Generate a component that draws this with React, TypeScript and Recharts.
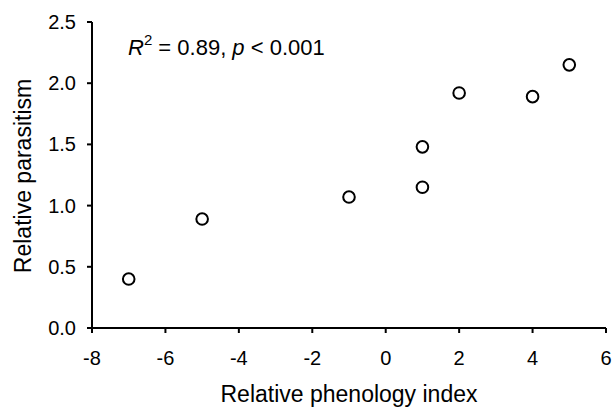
import React from "react";
import { ScatterChart, Scatter, XAxis, YAxis, Customized } from "recharts";

const phenology = [-7, -5, -1, 1, 1, 2, 4, 5];
const parasitism = [0.4, 0.89, 1.07, 1.48, 1.15, 1.92, 1.89, 2.15];
const xTicks = [-8, -6, -4, -2, 0, 2, 4, 6];
const yTicks = [0, 0.5, 1.0, 1.5, 2.0, 2.5];

const points = phenology.map((x, i) => ({ x, y: parasitism[i] }));

const font = "'Liberation Sans', Arial, Helvetica, sans-serif";

function OpenCircle(props: any) {
  const { cx, cy } = props;
  return <circle cx={cx} cy={cy} r={5.8} fill="#fff" stroke="#000" strokeWidth={2} />;
}

function XTick(props: any) {
  const { x, y, payload } = props;
  return (
    <text x={x} y={y} dy={14} textAnchor="middle" fontFamily={font} fontSize={20} fill="#000">
      {payload.value}
    </text>
  );
}

function YTick(props: any) {
  const { x, y, payload } = props;
  return (
    <text x={x} y={y} dy={7} textAnchor="end" fontFamily={font} fontSize={20} fill="#000">
      {Number(payload.value).toFixed(1)}
    </text>
  );
}

function Annotation() {
  return (
    <text x={128} y={55} fontFamily={font} fontSize={22} fill="#000">
      <tspan fontStyle="italic">R</tspan>
      <tspan fontSize={15} dy={-10}>2</tspan>
      <tspan dy={10}> = 0.89, </tspan>
      <tspan fontStyle="italic">p</tspan>
      <tspan> &lt; 0.001</tspan>
    </text>
  );
}

export default function App() {
  return (
    <div style={{ position: "absolute", left: 0, top: 0, width: 616, height: 412, background: "#fff" }}>
      <ScatterChart width={616} height={412} margin={{ top: 22, right: 10, bottom: 0, left: 0 }}>
        <XAxis
          type="number"
          dataKey="x"
          domain={[-8, 6]}
          ticks={xTicks}
          height={84}
          stroke="#000"
          strokeWidth={2}
          tickSize={5}
          tickMargin={18}
          tick={XTick}
          label={{
            content: () => (
              <text x={349} y={402} textAnchor="middle" fontFamily={font} fontSize={23} fill="#000">
                Relative phenology index
              </text>
            ),
          }}
        />
        <YAxis
          type="number"
          dataKey="y"
          domain={[0, 2.5]}
          ticks={yTicks}
          width={92}
          stroke="#000"
          strokeWidth={2}
          tickSize={5}
          tickMargin={11}
          tick={YTick}
          label={{
            content: () => (
              <text
                x={23}
                y={176}
                transform="rotate(-90, 23, 176)"
                textAnchor="middle"
                dominantBaseline="central"
                fontFamily={font}
                fontSize={23}
                fill="#000"
              >
                Relative parasitism
              </text>
            ),
          }}
        />
        <Scatter data={points} shape={OpenCircle} isAnimationActive={false} />
        <Customized component={Annotation} />
      </ScatterChart>
    </div>
  );
}
